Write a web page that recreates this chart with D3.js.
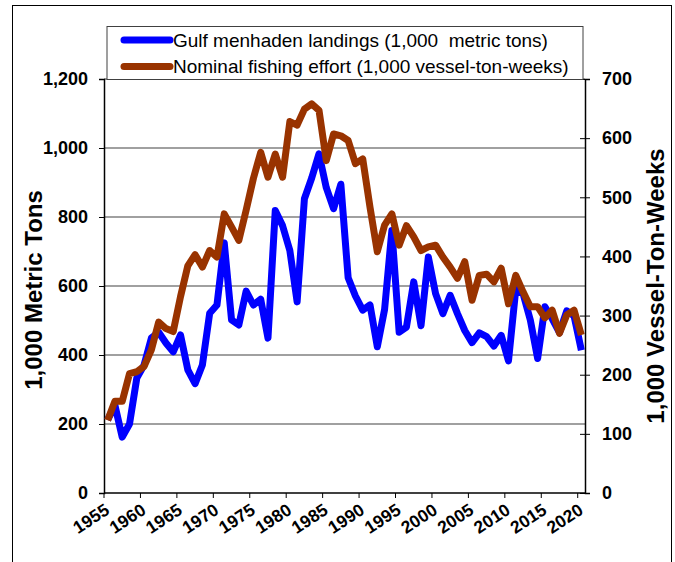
<!DOCTYPE html>
<html>
<head>
<meta charset="utf-8">
<script src="https://cdn.jsdelivr.net/npm/d3@7"></script>
<style>
  body { margin: 0; background: #fff; }
  svg { font-family: "Liberation Sans", Arial, sans-serif; display: block; }
</style>
</head>
<body>
<script>
// years 1955-2020
const years = d3.range(1955, 2021);

// Gulf menhaden landings, 1,000 metric tons (left axis)
const landings = [
  212, 254, 162, 200, 333, 371, 449, 466, 435, 409,
  458, 357, 317, 371, 521, 545, 725, 502, 487, 585,
  545, 562, 449, 819, 775, 703, 554, 853, 913, 983,
  885, 824, 895, 624, 571, 530, 545, 424, 532, 761,
  466, 481, 612, 485, 684, 578, 520, 573, 520, 471,
  436, 464, 453, 426, 457, 383, 590, 578, 501, 390,
  540, 505, 465, 528, 513, 414
];

// Nominal fishing effort, 1,000 vessel-ton-weeks (right axis)
const effort = [
  123, 155, 155, 202, 205, 214, 242, 289, 278, 273,
  332, 384, 403, 382, 410, 399, 472, 450, 427, 478,
  532, 576, 534, 573, 534, 628, 622, 649, 658, 647,
  562, 607, 604, 596, 557, 565, 483, 408, 453, 472,
  419, 452, 433, 410, 416, 419, 399, 382, 363, 391,
  326, 368, 370, 357, 380, 320, 368, 340, 315, 315,
  296, 309, 270, 301, 309, 267
];

const leftTicks = [0, 200, 400, 600, 800, 1000, 1200];
const rightTicks = [0, 100, 200, 300, 400, 500, 600, 700];
const labelYears = [1955, 1960, 1965, 1970, 1975, 1980, 1985, 1990, 1995, 2000, 2005, 2010, 2015, 2020];

const seriesNames = [
  "Gulf menhaden landings (1,000  metric tons)",
  "Nominal fishing effort (1,000 vessel-ton-weeks)"
];
const colors = ["#0000ff", "#993300"];

const width = 675;
const height = 562;
const margin = { top: 79, right: 90, bottom: 69, left: 104 };

const svg = d3.select("body").append("svg")
  .attr("width", width)
  .attr("height", height);

// outer frame (open at the bottom, cut off by the picture)
svg.append("rect")
  .attr("x", 12.5).attr("y", 5.5)
  .attr("width", 659).attr("height", 600)
  .attr("fill", "none").attr("stroke", "#000").attr("stroke-width", 1);

const x = d3.scaleBand()
  .domain(years)
  .range([margin.left, width - margin.right])
  .paddingInner(0).paddingOuter(0);

const yLeft = d3.scaleLinear()
  .domain([0, 1200])
  .range([height - margin.bottom, margin.top]);

const yRight = d3.scaleLinear()
  .domain([0, 700])
  .range([height - margin.bottom, margin.top]);

const cx = (yr) => x(yr) + x.bandwidth() / 2;

// gridlines
svg.append("g")
  .selectAll("line")
  .data(leftTicks.filter((d) => d > 0))
  .join("line")
  .attr("x1", margin.left).attr("x2", width - margin.right)
  .attr("y1", (d) => yLeft(d)).attr("y2", (d) => yLeft(d))
  .attr("stroke", "#808080").attr("stroke-width", 1.5);

// left axis
const leftAxis = svg.append("g")
  .attr("transform", `translate(${margin.left},0)`)
  .call(d3.axisLeft(yLeft).tickValues(leftTicks).tickSize(5).tickPadding(11)
    .tickFormat(d3.format(",")));
leftAxis.selectAll("text")
  .attr("font-size", 18).attr("font-weight", "bold").attr("fill", "#000")
  .attr("font-family", "Liberation Sans, Arial, sans-serif");
leftAxis.select(".domain").attr("stroke", "#000").attr("stroke-width", 1.5);
leftAxis.selectAll(".tick line").attr("stroke", "#000");

// right axis, ticks cross the line
const rightAxis = svg.append("g")
  .attr("transform", `translate(${width - margin.right},0)`)
  .call(d3.axisRight(yRight).tickValues(rightTicks).tickSize(5).tickPadding(12));
rightAxis.selectAll(".tick line").attr("x1", -5).attr("stroke", "#000");
rightAxis.selectAll("text")
  .attr("font-size", 18).attr("font-weight", "bold").attr("fill", "#000")
  .attr("font-family", "Liberation Sans, Arial, sans-serif");
rightAxis.select(".domain").attr("stroke", "#000").attr("stroke-width", 1.5);

// bottom axis: ticks at category boundaries every 5 years
const bottom = svg.append("g");
bottom.append("line")
  .attr("x1", margin.left).attr("x2", width - margin.right)
  .attr("y1", yLeft(0)).attr("y2", yLeft(0))
  .attr("stroke", "#000").attr("stroke-width", 1.5);
bottom.selectAll("line.tick")
  .data(labelYears)
  .join("line")
  .attr("class", "tick")
  .attr("x1", (d) => x(d)).attr("x2", (d) => x(d))
  .attr("y1", yLeft(0)).attr("y2", yLeft(0) + 5)
  .attr("stroke", "#000");
bottom.selectAll("text")
  .data(labelYears)
  .join("text")
  .attr("transform", (d) => `translate(${cx(d) + 3},${yLeft(0) + 20}) rotate(-33)`)
  .attr("text-anchor", "end")
  .attr("font-size", 17.5).attr("font-weight", "bold")
  .text((d) => d);

// series
const lineLeft = d3.line()
  .x((d, i) => cx(years[i]))
  .y((d) => yLeft(d));
const lineRight = d3.line()
  .x((d, i) => cx(years[i]))
  .y((d) => yRight(d));

svg.append("path")
  .datum(landings)
  .attr("d", lineLeft)
  .attr("fill", "none")
  .attr("stroke", colors[0])
  .attr("stroke-width", 7)
  .attr("stroke-linejoin", "round");

svg.append("path")
  .datum(effort)
  .attr("d", lineRight)
  .attr("fill", "none")
  .attr("stroke", colors[1])
  .attr("stroke-width", 7)
  .attr("stroke-linejoin", "round");

// axis titles
svg.append("text")
  .attr("transform", `translate(33,${(yLeft(0) + yLeft(1200)) / 2 + 4}) rotate(-90)`)
  .attr("text-anchor", "middle")
  .attr("dominant-baseline", "central")
  .attr("font-size", 24).attr("font-weight", "bold")
  .text("1,000 Metric Tons");

svg.append("text")
  .attr("transform", `translate(655,${(yLeft(0) + yLeft(1200)) / 2}) rotate(-90)`)
  .attr("text-anchor", "middle")
  .attr("dominant-baseline", "central")
  .attr("font-size", 24).attr("font-weight", "bold")
  .text("1,000 Vessel-Ton-Weeks");

// legend
const legend = svg.append("g");
legend.append("rect")
  .attr("x", 107).attr("y", 26.5)
  .attr("width", 476).attr("height", 53)
  .attr("fill", "#fff").attr("stroke", "#404040").attr("stroke-width", 1);
const items = legend.selectAll("g.item")
  .data(seriesNames)
  .join("g")
  .attr("class", "item")
  .attr("transform", (d, i) => `translate(0,${40 + i * 26.5})`);
items.append("line")
  .attr("x1", 124).attr("x2", 170)
  .attr("stroke", (d, i) => colors[i])
  .attr("stroke-width", 7)
  .attr("stroke-linecap", "round");
items.append("text")
  .attr("x", 173)
  .attr("dy", "0.35em")
  .attr("font-size", 19)
  .attr("xml:space", "preserve")
  .style("white-space", "pre")
  .text((d) => d);
</script>
</body>
</html>
